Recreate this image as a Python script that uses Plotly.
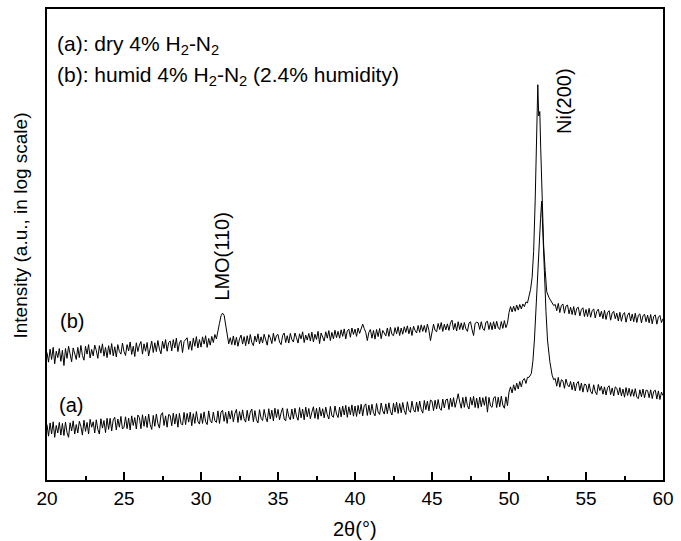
import plotly.graph_objects as go

# ---------------- data (intensity, arbitrary counts; plotted on a log axis) ----------------
# uniform 0.1 deg scan steps from 20.0 to 51.2 and from 53.0 to 60.0
scan_lo_start, scan_lo_n = 20.0, 313
scan_hi_start, scan_hi_n = 53.0, 71

# (b) humid 4% H2-N2
b_lo = [
    1350, 1080, 1460, 1150, 1520, 1040, 1390, 1200, 1480, 1100,
    1420, 1000, 1480, 1180, 1560, 1250, 1090, 1500, 1300, 1150,
    1520, 1200, 1590, 1260, 1130, 1560, 1300, 1620, 1190, 1450,
    1250, 1600, 1420, 1180, 1580, 1330, 1650, 1240, 1520, 1200,
    1580, 1290, 1660, 1250, 1540, 1220, 1620, 1380, 1300, 1680,
    1380, 1260, 1620, 1400, 1720, 1290, 1560, 1230, 1690, 1380,
    1600, 1740, 1300, 1650, 1390, 1700, 1250, 1560, 1760, 1350,
    1690, 1380, 1780, 1460, 1310, 1750, 1480, 1820, 1390, 1700,
    1760, 1400, 1820, 1500, 1880, 1380, 1680, 1790, 1350, 1740,
    1800, 1900, 1450, 1760, 1420, 1880, 1560, 1950, 1500, 1820,
    1530, 1940, 1640, 1990, 1520, 1870, 1600, 1960, 1700, 2050,
    1850, 2150, 2650, 3150, 3350, 3200, 2550, 1950, 1650, 1900,
    1620, 1980, 1600, 1920, 1560, 1850, 2020, 1640, 1950, 1580,
    1990, 1640, 2050, 1700, 1580, 1980, 1720, 2080, 1650, 1940,
    1680, 2060, 1800, 1600, 2040, 1900, 1660, 2110, 1750, 2000,
    2050, 1720, 1620, 2000, 2120, 1700, 1990, 1680, 2100, 1820,
    1720, 2120, 1900, 1680, 2080, 1850, 2180, 1700, 2020, 1800,
    2100, 1760, 2160, 1720, 2060, 1830, 2200, 1660, 2120, 1880,
    1760, 2180, 1880, 2240, 1780, 2150, 1850, 2260, 1900, 2200,
    1880, 2280, 1960, 2330, 1850, 2230, 2320, 1920, 2380, 2050,
    2320, 1960, 2380, 2100, 2420, 2600, 2350, 2150, 1780, 2150,
    2300, 1880, 2250, 1840, 2300, 1950, 2350, 1860, 2250, 2120,
    1980, 2380, 1960, 2420, 2050, 1990, 2400, 2080, 2450, 2000,
    2380, 2060, 2450, 2150, 2500, 2080, 2420, 2000, 2480, 2250,
    2120, 2520, 2150, 2560, 2200, 2520, 2150, 2600, 2250, 1780,
    2200, 2600, 2250, 2180, 2640, 2300, 2700, 2200, 2600, 2280,
    2620, 2250, 2680, 2850, 2280, 2650, 2220, 2750, 2300, 2680,
    2280, 2700, 2330, 2200, 2660, 2750, 2300, 2000, 2650, 2720,
    2680, 2300, 2750, 2350, 2250, 2720, 2780, 2300, 2700, 2280,
    2750, 2330, 2780, 2380, 2300, 2760, 2360, 2820, 2400, 2650,
    3400, 3900, 3450, 3950, 3500, 4050, 3600, 4100, 3700, 4150,
    3900, 4350, 4250,
]
b_peak_x = [51.3, 51.4, 51.5, 51.6, 51.7, 51.78, 51.87, 51.93, 52.0, 52.06,
            52.15, 52.25, 52.35, 52.45, 52.6, 52.7, 52.8, 52.9]
b_peak_y = [5000, 5800, 7600, 14000, 45000, 150000, 660000, 320000, 355000, 150000,
            45000, 16000, 9000, 5500, 4800, 4500, 4200, 4000]
b_hi = [
    4100, 3550, 4200, 3400, 4000, 4150, 3350, 3950, 4050, 3300,
    3850, 3250, 3900, 3200, 3750, 3850, 3150, 3650, 3800, 3100,
    3650, 3100, 3750, 3050, 3550, 3700, 3000, 3500, 3680, 3080,
    3500, 2950, 3580, 2900, 3400, 3550, 2850, 3350, 3500, 2950,
    3350, 2800, 3420, 2780, 3250, 3400, 2720, 3200, 3380, 2800,
    3280, 2750, 3350, 2700, 3200, 3300, 2680, 3150, 3280, 2750,
    3200, 2680, 3250, 2620, 3120, 3220, 2600, 3050, 3180, 2700,
    2950,
]

# (a) dry 4% H2-N2
a_lo = [
    255, 195, 265, 205, 272, 190, 250, 210, 268, 200,
    262, 198, 270, 212, 190, 266, 220, 278, 205, 255,
    210, 275, 245, 200, 282, 218, 268, 205, 288, 240,
    272, 210, 285, 228, 205, 292, 235, 280, 212, 295,
    228, 295, 220, 285, 302, 225, 290, 240, 308, 230,
    240, 305, 232, 296, 225, 312, 250, 300, 230, 318,
    300, 232, 320, 245, 310, 238, 325, 255, 228, 315,
    245, 325, 262, 235, 318, 336, 250, 312, 240, 322,
    315, 248, 332, 258, 325, 240, 330, 262, 252, 338,
    255, 330, 270, 340, 248, 328, 262, 345, 275, 258,
    330, 262, 342, 272, 255, 350, 280, 265, 340, 278,
    268, 350, 262, 340, 355, 275, 338, 262, 348, 290,
    352, 272, 330, 362, 268, 345, 282, 358, 290, 270,
    355, 278, 340, 365, 272, 352, 285, 265, 360, 295,
    280, 362, 300, 272, 368, 290, 356, 278, 372, 300,
    362, 285, 335, 375, 290, 278, 368, 305, 285, 365,
    290, 372, 310, 282, 378, 298, 365, 285, 382, 305,
    370, 292, 340, 385, 295, 372, 288, 380, 310, 368,
    298, 382, 320, 290, 388, 312, 302, 392, 325, 300,
    382, 305, 392, 318, 398, 302, 385, 320, 402, 310,
    392, 308, 398, 325, 408, 312, 395, 412, 315, 400,
    320, 408, 335, 312, 415, 340, 322, 420, 350, 325,
    412, 328, 422, 345, 318, 418, 340, 428, 330, 415,
    335, 425, 352, 322, 432, 355, 338, 438, 360, 340,
    430, 345, 440, 362, 332, 445, 360, 438, 350, 450,
    438, 352, 448, 365, 455, 372, 355, 460, 375, 452,
    460, 362, 470, 385, 475, 380, 440, 520, 430, 372,
    478, 380, 485, 395, 365, 480, 400, 490, 378, 470,
    372, 482, 385, 475, 398, 488, 340, 478, 392, 380,
    470, 488, 378, 480, 385, 492, 400, 372, 485, 395,
    540, 610, 530, 640, 560, 665, 580, 690, 610, 710,
    740, 660, 760,
]
a_peak_x = [51.3, 51.45, 51.55, 51.65, 51.75, 51.85, 51.95, 52.05, 52.12, 52.2,
            52.3, 52.4, 52.5, 52.65, 52.8, 52.9]
a_peak_y = [760, 830, 1100, 1800, 4000, 8000, 15000, 30000, 44700, 20000,
            8000, 3500, 1800, 1100, 800, 720]
a_hi = [
    740, 620, 760, 605, 720, 700, 590, 730, 640, 610,
    690, 570, 680, 555, 660, 690, 560, 665, 540, 650,
    640, 540, 655, 550, 520, 640, 545, 510, 645, 560,
    620, 515, 610, 505, 600, 625, 510, 595, 495, 610,
    590, 505, 600, 495, 580, 480, 600, 500, 590, 490,
    575, 490, 585, 480, 465, 570, 485, 580, 475, 565,
    560, 475, 570, 465, 550, 565, 460, 555, 455, 540,
    500,
]

x_ticks = [20, 25, 30, 35, 40, 45, 50, 55, 60]
x_tick_labels = [str(t) for t in x_ticks]

assert len(a_lo) == scan_lo_n and len(b_lo) == scan_lo_n
assert len(a_hi) == scan_hi_n and len(b_hi) == scan_hi_n

x_lo = [round(scan_lo_start + 0.1 * i, 1) for i in range(scan_lo_n)]
x_hi = [round(scan_hi_start + 0.1 * i, 1) for i in range(scan_hi_n)]

xa = x_lo + a_peak_x + x_hi
ya = a_lo + a_peak_y + a_hi
xb = x_lo + b_peak_x + x_hi
yb = b_lo + b_peak_y + b_hi

FONT = "Arial, Liberation Sans, Helvetica, sans-serif"

fig = go.Figure()
fig.add_trace(go.Scatter(x=xa, y=ya, mode="lines", line=dict(color="black", width=1),
                         name="(a)", showlegend=False))
fig.add_trace(go.Scatter(x=xb, y=yb, mode="lines", line=dict(color="black", width=1),
                         name="(b)", showlegend=False))

fig.update_layout(
    width=681, height=541,
    margin=dict(l=47, r=10, t=7, b=61),
    paper_bgcolor="white", plot_bgcolor="white",
    font=dict(family=FONT, color="black", size=20),
)
fig.update_xaxes(
    range=[20, 60], tickvals=x_ticks, ticktext=x_tick_labels,
    ticks="inside", ticklen=8, tickwidth=2, tickcolor="black",
    minor=dict(dtick=2.5, tick0=20, ticks="inside", ticklen=4, tickwidth=2, tickcolor="black"),
    showline=True, linewidth=2, linecolor="black", mirror=True,
    showgrid=False, zeroline=False, tickfont=dict(size=19),
    ticklabeloverflow="allow",
)
fig.update_yaxes(
    type="log", range=[1.85, 6.58], showticklabels=False, ticks="",
    showline=True, linewidth=2, linecolor="black", mirror=True,
    showgrid=False, zeroline=False,
)

def ann(size):
    return dict(showarrow=False, xanchor="center", yanchor="middle",
                font=dict(family=FONT, size=size, color="black"))

def left_ann(size):
    d = ann(size)
    d["xanchor"] = "left"
    return d

fig.add_annotation(text="(a): dry 4% H<sub>2</sub>-N<sub>2</sub>", xref="x", yref="paper",
                   x=20.55, y=0.9239, **left_ann(21))
fig.add_annotation(text="(b): humid 4% H<sub>2</sub>-N<sub>2</sub> (2.4% humidity)", xref="x", yref="paper",
                   x=20.55, y=0.8584, **left_ann(21))
fig.add_annotation(text="(b)", xref="x", yref="paper", x=21.6, y=0.3383, **ann(20))
fig.add_annotation(text="(a)", xref="x", yref="paper", x=21.55, y=0.1586, **ann(20))
fig.add_annotation(text="LMO(110)", xref="x", yref="paper", x=31.35, y=0.4757, textangle=-90, **ann(20))
fig.add_annotation(text="Ni(200)", xref="x", yref="paper", x=53.53, y=0.8055, textangle=-90, **ann(20))
fig.add_annotation(text="2θ(°)", xref="x", yref="paper", x=40, y=-0.1036, **ann(20))
fig.add_annotation(text="Intensity (a.u., in log scale)", xref="paper", yref="paper",
                   x=-0.0433, y=0.541, textangle=-90, **ann(19))

fig.write_html("out.html", config={"displayModeBar": False},
               post_script="document.body.style.margin='0';document.body.style.overflow='hidden';")
